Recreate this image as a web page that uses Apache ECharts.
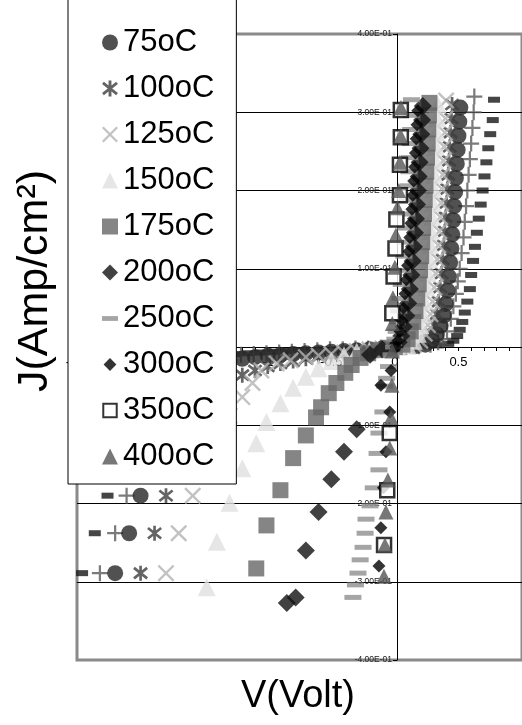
<!DOCTYPE html>
<html lang="en">
<head>
    <meta charset="UTF-8">
    <title>J-V curves</title>
    <script src="https://cdn.jsdelivr.net/npm/echarts/dist/echarts.min.js"></script>
    <style>
        html, body { margin: 0; padding: 0; background: #fff; }
        #chart { width: 522px; height: 725px; }
    </style>
</head>
<body>
    <div id="chart"></div>
<script>
    // data: [V (Volt), J (Amp/cm2)]
    var t25 = [[-2.46,-0.289],[-2.36,-0.238],[-2.26,-0.19],[-2.16,-0.142],[-2.06,-0.098],[-1.96,-0.062],[-1.86,-0.038],[-1.76,-0.025],[-1.66,-0.018],[-1.56,-0.014],[-1.46,-0.012],[-1.36,-0.01],[-1.26,-0.009],[-1.16,-0.008],[-1.06,-0.007],[-0.96,-0.006],[-0.86,-0.005],[-0.76,-0.004],[-0.66,-0.004],[-0.56,-0.003],[-0.46,-0.003],[-0.36,-0.002],[-0.26,-0.002],[-0.16,-0.001],[-0.06,-0.001],
        [0.04,0],[0.14,0],[0.24,0.001],[0.34,0.002],[0.42,0.004],[0.46,0.008],[0.49,0.014],[0.51,0.022],[0.53,0.032],[0.55,0.044],[0.57,0.058],[0.59,0.074],[0.6,0.092],[0.615,0.11],[0.63,0.128],[0.645,0.146],[0.66,0.164],[0.675,0.182],[0.69,0.2],[0.705,0.218],[0.72,0.236],[0.735,0.254],[0.75,0.272],[0.77,0.29],[0.78,0.316]];
    var t50 = [[-2.32,-0.289],[-2.2,-0.238],[-2.11,-0.19],[-2.01,-0.14],[-1.91,-0.095],[-1.81,-0.06],[-1.71,-0.038],[-1.61,-0.026],[-1.51,-0.019],[-1.41,-0.015],[-1.31,-0.012],[-1.21,-0.01],[-1.11,-0.009],[-1.01,-0.008],[-0.91,-0.007],[-0.81,-0.006],[-0.71,-0.005],[-0.61,-0.004],[-0.51,-0.003],[-0.41,-0.003],[-0.31,-0.002],[-0.21,-0.002],[-0.11,-0.001],[-0.01,0],
        [0.09,0],[0.19,0.001],[0.28,0.003],[0.34,0.006],[0.38,0.01],[0.41,0.02],[0.44,0.036],[0.46,0.052],[0.48,0.068],[0.495,0.084],[0.51,0.1],[0.525,0.12],[0.54,0.14],[0.55,0.16],[0.56,0.18],[0.57,0.2],[0.58,0.22],[0.59,0.24],[0.6,0.26],[0.61,0.28],[0.62,0.3],[0.625,0.32]];
    var t75 = [[-2.2,-0.289],[-2.09,-0.238],[-2.0,-0.19],[-1.9,-0.14],[-1.8,-0.095],[-1.7,-0.062],[-1.6,-0.042],[-1.5,-0.03],[-1.4,-0.023],[-1.3,-0.018],[-1.2,-0.015],[-1.1,-0.013],[-1.0,-0.011],[-0.9,-0.01],[-0.8,-0.009],[-0.7,-0.008],[-0.6,-0.007],[-0.5,-0.006],[-0.4,-0.005],[-0.3,-0.004],[-0.2,-0.003],[-0.1,-0.002],[0,0],
        [0.06,0],[0.16,0.001],[0.24,0.003],[0.29,0.008],[0.33,0.016],[0.36,0.027],[0.385,0.04],[0.4,0.055],[0.415,0.072],[0.425,0.09],[0.435,0.108],[0.445,0.126],[0.452,0.144],[0.46,0.162],[0.467,0.18],[0.474,0.198],[0.48,0.216],[0.487,0.234],[0.494,0.252],[0.5,0.27],[0.507,0.288],[0.515,0.306]];
    var t100 = [[-2.0,-0.289],[-1.89,-0.238],[-1.8,-0.19],[-1.7,-0.142],[-1.6,-0.1],[-1.5,-0.072],[-1.4,-0.055],[-1.3,-0.044],[-1.2,-0.036],[-1.1,-0.03],[-1.0,-0.025],[-0.9,-0.021],[-0.8,-0.018],[-0.7,-0.015],[-0.6,-0.012],[-0.5,-0.01],[-0.4,-0.008],[-0.3,-0.006],[-0.2,-0.004],[-0.1,-0.002],[0,0],
        [0.02,0],[0.12,0.001],[0.2,0.003],[0.25,0.008],[0.285,0.017],[0.31,0.028],[0.33,0.042],[0.345,0.058],[0.357,0.076],[0.368,0.094],[0.377,0.112],[0.386,0.13],[0.393,0.148],[0.4,0.166],[0.407,0.184],[0.413,0.202],[0.42,0.22],[0.426,0.238],[0.432,0.256],[0.438,0.274],[0.445,0.292],[0.45,0.31]];
    var t125 = [[-1.8,-0.289],[-1.7,-0.238],[-1.59,-0.19],[-1.5,-0.15],[-1.4,-0.115],[-1.3,-0.088],[-1.2,-0.064],[-1.12,-0.046],[-1.05,-0.03],[-0.93,-0.021],[-0.82,-0.017],[-0.7,-0.013],[-0.6,-0.011],[-0.5,-0.009],[-0.4,-0.007],[-0.3,-0.005],[-0.2,-0.003],[-0.1,-0.002],
        [0.0,0],[0.08,0.001],[0.15,0.003],[0.2,0.008],[0.235,0.017],[0.26,0.028],[0.28,0.042],[0.297,0.058],[0.31,0.076],[0.322,0.094],[0.333,0.112],[0.342,0.13],[0.35,0.148],[0.357,0.166],[0.364,0.184],[0.37,0.202],[0.376,0.22],[0.382,0.238],[0.388,0.256],[0.393,0.274],[0.398,0.292],[0.403,0.315]];
    var t150 = [[-1.48,-0.307],[-1.4,-0.249],[-1.3,-0.199],[-1.2,-0.155],[-1.09,-0.123],[-1.01,-0.096],[-0.9,-0.072],[-0.8,-0.052],[-0.7,-0.038],[-0.6,-0.027],[-0.5,-0.018],[-0.4,-0.011],[-0.3,-0.006],[-0.2,-0.004],[-0.1,-0.002],
        [0.02,0],[0.1,0.002],[0.15,0.008],[0.18,0.017],[0.2,0.028],[0.22,0.042],[0.235,0.058],[0.248,0.076],[0.26,0.094],[0.27,0.112],[0.278,0.13],[0.285,0.148],[0.292,0.166],[0.298,0.184],[0.305,0.202],[0.311,0.22],[0.317,0.238],[0.322,0.256],[0.327,0.274],[0.332,0.292],[0.337,0.31]];
    var t175 = [[-1.09,-0.283],[-1.01,-0.228],[-0.9,-0.183],[-0.8,-0.142],[-0.7,-0.113],[-0.62,-0.09],[-0.58,-0.077],[-0.52,-0.059],[-0.46,-0.046],[-0.39,-0.033],[-0.34,-0.023],[-0.27,-0.014],[-0.21,-0.008],[-0.13,-0.004],[-0.05,-0.001],
        [0.0,0],[0.06,0.003],[0.1,0.01],[0.125,0.02],[0.145,0.032],[0.162,0.046],[0.176,0.062],[0.188,0.08],[0.198,0.098],[0.207,0.116],[0.215,0.134],[0.222,0.152],[0.229,0.17],[0.235,0.188],[0.241,0.206],[0.247,0.224],[0.253,0.242],[0.258,0.26],[0.263,0.278],[0.268,0.296],[0.272,0.312]];
    var t200 = [[-0.85,-0.327],[-0.78,-0.32],[-0.7,-0.26],[-0.6,-0.211],[-0.5,-0.169],[-0.4,-0.134],[-0.3,-0.105],[-0.195,-0.01],[-0.1,-0.003],
        [0.0,0],[0.03,0.006],[0.05,0.014],[0.07,0.026],[0.09,0.04],[0.105,0.056],[0.118,0.074],[0.13,0.092],[0.14,0.11],[0.15,0.128],[0.158,0.146],[0.166,0.164],[0.174,0.182],[0.181,0.2],[0.188,0.218],[0.195,0.236],[0.202,0.254],[0.208,0.272],[0.214,0.29],[0.22,0.308]];
    var t250 = [[-0.33,-0.32],[-0.31,-0.304],[-0.29,-0.289],[-0.273,-0.272],[-0.25,-0.256],[-0.234,-0.238],[-0.227,-0.22],[-0.195,-0.203],[-0.17,-0.18],[-0.125,-0.157],[-0.14,-0.136],[-0.125,-0.11],[-0.094,-0.083],[-0.08,-0.05],[-0.065,-0.04],[-0.05,-0.025],[-0.03,-0.01],
        [-0.01,0],[0.0,0.01],[0.01,0.02],[0.02,0.032],[0.03,0.046],[0.04,0.062],[0.05,0.08],[0.06,0.098],[0.07,0.116],[0.078,0.134],[0.085,0.152],[0.092,0.17],[0.098,0.188],[0.104,0.206],[0.11,0.224],[0.115,0.242],[0.12,0.26],[0.124,0.278],[0.128,0.296],[0.13,0.316]];
    var t300 = [[-0.125,-0.28],[-0.11,-0.231],[-0.09,-0.18],[-0.07,-0.134],[-0.04,-0.083],[-0.11,-0.049],[-0.03,-0.03],
        [0.01,0],[0.025,0.008],[0.04,0.02],[0.055,0.034],[0.068,0.05],[0.08,0.068],[0.09,0.086],[0.1,0.104],[0.11,0.122],[0.118,0.14],[0.126,0.158],[0.134,0.176],[0.141,0.194],[0.148,0.212],[0.155,0.23],[0.162,0.248],[0.168,0.266],[0.174,0.284],[0.18,0.302]];
    var t350 = [[-0.085,-0.253],[-0.06,-0.183],[-0.04,-0.11],
        [-0.02,0.043],[-0.01,0.09],[0.005,0.126],[0.012,0.163],[0.04,0.194],[0.04,0.233],[0.047,0.268],[0.047,0.303]];
    var t400 = [[-0.086,-0.293],[-0.078,-0.253],[-0.07,-0.211],[-0.055,-0.17],[-0.04,-0.129],[-0.03,-0.09],[-0.023,-0.049],[-0.02,-0.005],
        [-0.02,0.03],[-0.015,0.063],[0.0,0.102],[0.008,0.143],[0.02,0.178],[0.03,0.2],[0.04,0.236],[0.045,0.27],[0.048,0.306]];

    var legendNames = ['75oC', '100oC', '125oC', '150oC', '175oC', '200oC', '250oC', '300oC', '350oC', '400oC'];

    var symPlus = 'path://M4.3,0h1.4v4.3h4.3v1.4h-4.3v4.3h-1.4v-4.3h-4.3v-1.4h4.3z';
    var symStar = 'path://M4.1,0h1.8v10h-1.8z M1.16,0.8L9.96,7.8L8.84,9.2L0.04,2.2z M9.96,2.2L1.16,9.2L0.04,7.8L8.84,0.8z';
    var symCross = 'path://M0,1L1,0L10,9L9,10z M9,0L10,1L1,10L0,9z';
    var symDash = 'path://M0,0h10v3h-10z';
    // legend icons padded with empty moves so they draw a little smaller
    var iconSmallDiamond = 'path://M0,0 M10,10 M5,1L9,5L5,9L1,5z';
    var iconOpenSquare = 'path://M0,0 M10,10 M0.8,0.8h8.4v8.4h-8.4z';

    var chart = echarts.init(document.getElementById('chart'));

    function sci(v) {
        if (Math.abs(v) < 1e-9) return '0.00E+00';
        var e = Math.floor(Math.log10(Math.abs(v)) + 1e-9);
        var m = v / Math.pow(10, e);
        return m.toFixed(2) + 'E' + (e < 0 ? '-' : '+') + String(Math.abs(e)).padStart(2, '0');
    }

    function scatter(name, data, symbol, size, style) {
        return {
            name: name,
            type: 'scatter',
            data: data,
            symbol: symbol,
            symbolSize: size,
            symbolKeepAspect: true,
            itemStyle: style,
            silent: true
        };
    }

    var gray = '#8a8a8a';
    var splitColors = [gray, '#000', '#000', '#000', '#000', '#000', '#000', '#000', gray];
    var font = 'Liberation Sans, Arial, sans-serif';

    chart.setOption({
        animation: false,
        backgroundColor: '#fff',
        textStyle: { fontFamily: font },
        grid: {
            left: 77, top: 34, width: 448, height: 626,
            show: true, borderColor: gray, borderWidth: 3, backgroundColor: 'transparent'
        },
        xAxis: {
            type: 'value', min: -2.5, max: 1.0, interval: 0.1,
            position: 'bottom', offset: -313,   // axis drawn through J = 0
            axisLine: { onZero: false, lineStyle: { color: '#000', width: 1 } },
            axisTick: { show: true, length: 4, lineStyle: { color: '#000' } },
            axisLabel: {
                fontSize: 13, color: '#000', margin: 9, showMaxLabel: false,
                formatter: function (v) {
                    var r = Math.round(v * 10) / 10;
                    if (Math.abs(r * 2 - Math.round(r * 2)) > 1e-6) return '';
                    return String(r);
                }
            },
            splitLine: { show: false }
        },
        yAxis: {
            type: 'value', min: -0.4, max: 0.4, interval: 0.1,
            position: 'left', offset: -320,     // axis drawn through V = 0
            axisLine: { onZero: false, lineStyle: { color: '#000', width: 1 } },
            axisTick: { show: true, length: 4, lineStyle: { color: '#000' } },
            axisLabel: { fontSize: 8.5, color: '#222', margin: 5, formatter: sci },
            splitLine: { show: true, lineStyle: { color: splitColors, width: 1 } }
        },
        legend: {
            orient: 'vertical', left: 68, top: -30,
            padding: [57, 22, 12, 33],
            itemGap: 15, itemWidth: 16, itemHeight: 16,
            selectedMode: false,
            backgroundColor: '#fff', borderColor: '#000', borderWidth: 1,
            textStyle: { fontSize: 31, lineHeight: 31, color: '#000', fontFamily: font },
            data: [
                { name: '75oC', icon: 'circle' },
                { name: '100oC', icon: symStar },
                { name: '125oC', icon: symCross },
                { name: '150oC', icon: 'triangle' },
                { name: '175oC', icon: 'rect' },
                { name: '200oC', icon: 'diamond' },
                { name: '250oC', icon: symDash },
                { name: '300oC', icon: iconSmallDiamond },
                { name: '350oC', icon: iconOpenSquare },
                { name: '400oC', icon: 'triangle' }
            ]
        },
        graphic: [
            {
                type: 'text', x: 35, y: 281, rotation: Math.PI / 2, z: 10,
                style: { text: 'J(Amp/cm²)', fontSize: 43, fontFamily: font, fill: '#000',
                    align: 'center', verticalAlign: 'middle', textAlign: 'center', textVerticalAlign: 'middle' }
            },
            {
                type: 'text', x: 298, y: 697, z: 10,
                style: { text: 'V(Volt)', fontSize: 38, fontFamily: font, fill: '#000',
                    align: 'center', verticalAlign: 'middle', textAlign: 'center', textVerticalAlign: 'middle' }
            }
        ],
        series: [
            scatter('25oC', t25, 'rect', [12, 6], { color: '#161616' }),
            scatter('50oC', t50, symPlus, 16, { color: '#5a5a5a' }),
            scatter(legendNames[0], t75, 'circle', 16, { color: '#262626' }),
            scatter(legendNames[1], t100, symStar, 15, { color: '#3d3d3d' }),
            scatter(legendNames[2], t125, symCross, 17, { color: '#b3b3b3' }),
            scatter(legendNames[3], t150, 'triangle', 18, { color: '#e0e0e0' }),
            scatter(legendNames[4], t175, 'rect', 16, { color: '#666666' }),
            scatter(legendNames[5], t200, 'diamond', 18, { color: '#111111' }),
            scatter(legendNames[6], t250, 'rect', [17, 5], { color: '#8f8f8f' }),
            scatter(legendNames[7], t300, 'diamond', 13, { color: '#000000' }),
            scatter(legendNames[8], t350, 'rect', 14, { color: '#ffffff', borderColor: '#000', borderWidth: 2.5 }),
            scatter(legendNames[9], t400, 'triangle', 15, { color: '#555555' })
        ]
    });
</script>
</body>
</html>
